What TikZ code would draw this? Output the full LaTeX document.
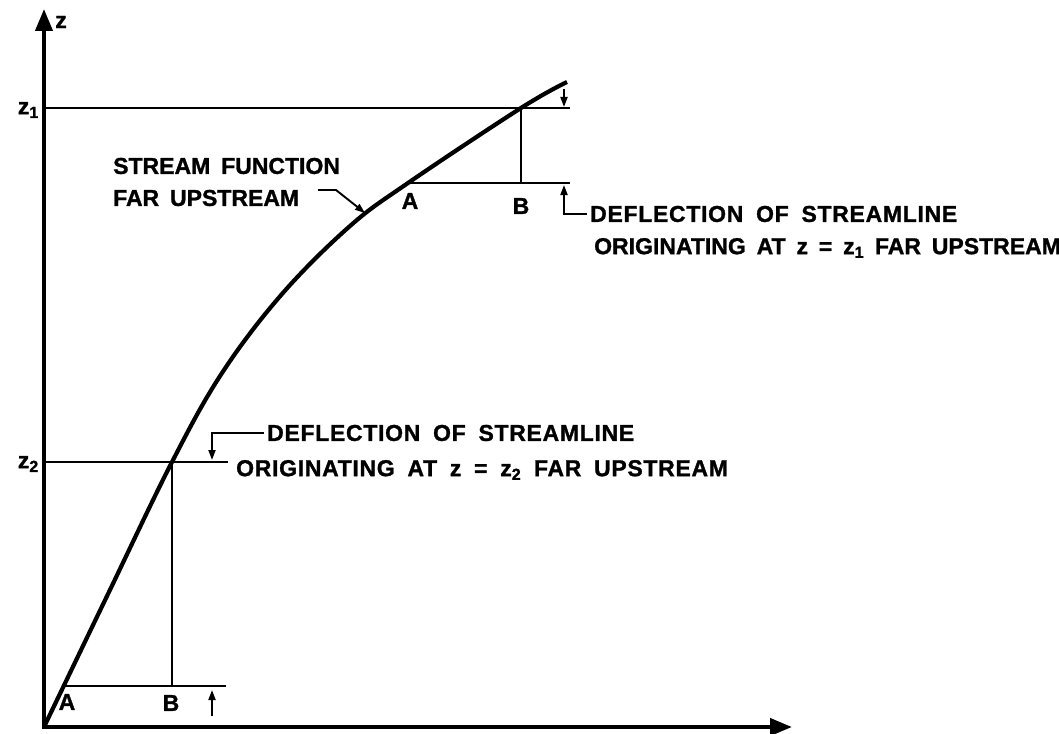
\documentclass[tikz,border=0pt]{standalone}
\usepackage{fontspec}
\setmainfont{Liberation Sans}
\newfontfamily\lettering{Liberation Sans}[WordSpace=1.7,FakeBold=1.2]
\newfontfamily\letteringwide{Liberation Sans}[LetterSpace=3,WordSpace=1.8,FakeBold=1.2]
\usetikzlibrary{arrows.meta}
\begin{document}
\begin{tikzpicture}[x=1pt,y=-1pt,
  axisline/.style={line width=4.2pt,line join=miter},
  curveline/.style={line width=4.2pt},
  thinline/.style={line width=1.9pt},
  smallarrow/.style={line width=1.9pt,-{Triangle[length=10pt,width=7pt]}},
  lbl/.style={font=\lettering\bfseries\fontsize{23}{27}\selectfont,inner sep=0pt},
  lblw/.style={font=\letteringwide\bfseries\fontsize{23}{27}\selectfont,inner sep=0pt}]
\useasboundingbox (0,0) rectangle (1059,733);
% axes
\coordinate (O) at (44,727);
\coordinate (ytip) at (44,9);
\coordinate (xtip) at (792,727);
\draw[axisline,{Triangle[length=22pt,width=17pt]}-{Triangle[length=22pt,width=17pt]}] (ytip) -- (O) -- (xtip);
\node[lbl] (zlab) at (61,22) {z};
% curve
\draw[curveline] plot[smooth,tension=0.6] coordinates {(44,727) (108,594) (172,462) (222,373) (282,294) (350,226) (408,183) (521,108) (567,82)};
% upper construction
\coordinate (z1L) at (44,108);
\coordinate (z1R) at (570,108);
\coordinate (B1t) at (521,108);
\coordinate (B1b) at (521,183);
\coordinate (A1) at (406,183);
\coordinate (H1R) at (570,183);
\draw[thinline] (z1L) -- (z1R);
\draw[thinline] (B1t) -- (B1b);
\draw[thinline] (A1) -- (H1R);
\node[lbl,anchor=east] (z1lab) at (39,110) {z\textsubscript{1}};
\node[lbl] (A1lab) at (410,201) {A};
\node[lbl] (B1lab) at (521,206) {B};
\coordinate (t1s) at (564,89);
\coordinate (t1e) at (564,107);
\draw[smallarrow] (t1s) -- (t1e);
\node[lblw,anchor=west] (D1) at (590,214) {DEFLECTION OF STREAMLINE};
\node[lbl,anchor=west] (O1) at (594,248) {ORIGINATING AT z = z\textsubscript{1} FAR UPSTREAM};
\coordinate (c1) at (564,214);
\coordinate (u1) at (564,185);
\draw[smallarrow] ([xshift=-3pt]D1.west) -- (c1) -- (u1);
% stream function label
\node[lbl,anchor=west] (SF) at (113,166) {STREAM FUNCTION};
\node[lbl,anchor=west] (FU) at (113,198) {FAR UPSTREAM};
\coordinate (sf1) at (318,190);
\coordinate (sf2) at (336,190);
\coordinate (sf3) at (365,213);
\draw[smallarrow] (sf1) -- (sf2) -- (sf3);
% lower construction
\coordinate (z2L) at (44,462);
\coordinate (z2R) at (228,462);
\coordinate (B2t) at (172,462);
\coordinate (B2b) at (172,686);
\coordinate (A2) at (62,686);
\coordinate (H2R) at (226,686);
\draw[thinline] (z2L) -- (z2R);
\draw[thinline] (B2t) -- (B2b);
\draw[thinline] (A2) -- (H2R);
\node[lbl,anchor=east] (z2lab) at (39,464) {z\textsubscript{2}};
\node[lbl] (A2lab) at (67,702) {A};
\node[lbl] (B2lab) at (171,703) {B};
\coordinate (t2s) at (212,716);
\coordinate (t2e) at (212,690);
\draw[smallarrow] (t2s) -- (t2e);
\node[lblw,anchor=west] (D2) at (267,433) {DEFLECTION OF STREAMLINE};
\node[lblw,anchor=west] (O2) at (236,470) {ORIGINATING AT z = z\textsubscript{2} FAR UPSTREAM};
\coordinate (c2) at (212,433);
\coordinate (u2) at (212,460);
\draw[smallarrow] ([xshift=-3pt]D2.west) -- (c2) -- (u2);
\end{tikzpicture}
\end{document}
